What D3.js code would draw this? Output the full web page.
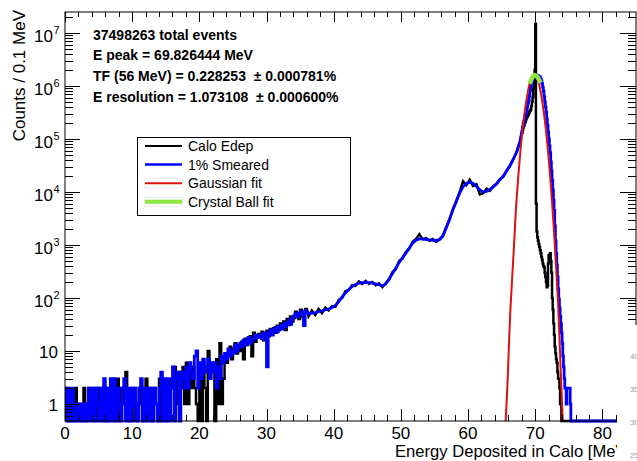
<!DOCTYPE html>
<html><head><meta charset="utf-8">
<script src="https://cdn.jsdelivr.net/npm/d3@7"></script>
<style>body{margin:0;background:#fff}svg{display:block}text{font-family:"Liberation Sans",Arial,Helvetica,sans-serif;white-space:pre}</style>
</head><body><svg id="c" width="637" height="461"></svg>
<script>
// ---------------- data ----------------
const xRange = [0, 85];
const yRange = [0.478, 2.49e7];
const xTickValues = [0, 10, 20, 30, 40, 50, 60, 70, 80];
const xTickLabels = ["0", "10", "20", "30", "40", "50", "60", "70", "80"];
const yTickValues = [1, 10, 1e2, 1e3, 1e4, 1e5, 1e6, 1e7];
const yTickBase = ["1", "10", "10", "10", "10", "10", "10", "10"];
const yTickExp = ["", "", "2", "3", "4", "5", "6", "7"];
const xTitle = "Energy Deposited in Calo [MeV]";
const yTitle = "Counts / 0.1 MeV";
const infoLines = [
  "37498263 total events",
  "E peak = 69.826444 MeV",
  "TF (56 MeV) = 0.228253  \u00b1 0.000781%",
  "E resolution = 1.073108  \u00b1 0.000600%"
];
const legendLabels = ["Calo Edep", "1% Smeared", "Gaussian fit", "Crystal Ball fit"];
const sideLabels = ["40", "35", "30", "25"];

// Segment A: 0-36 MeV, 0.25 MeV bins
const segA = {start: 0, step: 0.25};
const blackA = [
 1,2,0,1, 0,1,2,0, 1,1,0,2, 0,1,2,1, 1,2,0,2, 1,2,1,0, 2,0,1,2, 1,2,0,3, 0,2,1,2, 4,1,0,2,
 1,2,0,1, 2,1,0,2, 3,1,2,0, 1,2,1,0, 3,0,2,1, 0,2,1,3, 2,5,1,3, 4,2,5,1, 6,1,4,2, 5,2,1,0,
 4,0,6,2, 0,10,3,4, 6,0,7,1, 14,1,3,8, 6,9,12,7, 11,14,9,13, 10,15,7,17, 13,16,19,8, 22,15,18,21, 19,23,16,20,
 24,19,26,21, 27,22,30,25, 33,28,36,25, 40,31,45,36, 42,55,48,40, 60,45,55,62
];
const blueA = [
 2,0,2,0, 2,0,1,0, 1,0,1,0, 1,0,2,0, 2,0,2,1, 0,2,0,3, 0,2,0,3, 0,3,0,2, 1,0,2,3, 0,2,0,2,
 0,2,1,0, 2,3,0,2, 0,2,0,2, 0,2,1,0, 2,4,0,3, 0,3,0,2, 5,0,3,4, 0,3,4,2, 5,2,6,4, 3,8,10,2,
 6,3,7,4, 5,7,3,6, 4,6,2,5, 3,8,6,9, 7,11,8,10, 9,13,10,12, 14,12,16,13, 15,18,14,16, 17,20,18,19, 20,17,22,19,
 5,22,25,20, 24,28,23,27, 30,26,33,29, 34,38,32,42, 46,50,44,52, 55,48,30,58
];
// Segment B: 36-68 MeV, 0.5 MeV bins
const segB = {start: 36, step: 0.5};
const blackB = [45,58,48,62,52,66,58,70,68,92,100,135,140,175,170,205,185,210,185,200,175,190,160,190,
 220,310,350,500,560,740,850,1150,1300,1600,1280,1350,1200,1300,1150,1280,1450,2200,3000,4800,6500,10000,16000,13500,
 17000,13000,14000,9000,9500,11500,10500,13000,14000,17500,19500,25500,31000,42000,57000,90000];
const blueB = [50,52,53,55,57,60,62,66,72,85,105,125,145,165,180,190,195,198,195,190,185,178,170,185,
 230,290,370,470,580,700,880,1080,1230,1300,1300,1270,1250,1230,1220,1260,1500,2100,3100,4600,6800,9500,12500,14500,
 15500,14500,12800,11000,10000,10300,11200,12500,14500,17000,20000,25000,32000,42000,58000,92000];
// Segment C: 68-76 MeV, 0.1 MeV bins
const segC = {start: 68, step: 0.1};
const blackC = [
 130000,150000,165000,180000,200000,215000,235000,255000,270000,285000,
 300000,320000,340000,360000,420000,500000,620000,900000,1400000,2000000,
 15000000,6000,1800,1400,1200,1050,920,800,700,600,
 520,450,400,380,300,250,200,160,170,450,
 640,620,700,500,300,100,60,33,20,12,
 9,7,6,4,3,3,2,1,1,0,
 0,0,0,0,0,0,0,0,0,0,
 0,0,0,0,0,0,0,0,0,0
];
const blueC = [
 140000,170000,195000,220000,250000,275000,300000,350000,410000,480000,
 550000,660000,800000,970000,1100000,1250000,1380000,1480000,1550000,1600000,
 1620000,1610000,1600000,1580000,1550000,1520000,1480000,1420000,1350000,1230000,
 1100000,950000,800000,630000,500000,400000,320000,240000,180000,135000,
 100000,74000,55000,37000,25000,16500,11000,7000,4500,2300,
 1200,700,420,250,150,95,65,45,33,22,
 14,8,5,3,2,2,1,2,2,2,
 2,2,1,0,0,0,0,0,0,0
];
// Segment D: empty tail 76-85 MeV
const segD = {start: 76, step: 9};
const blackD = [0];
const blueD = [0];

// Fit curves
const gausE = [65.6,65.9,66.3,66.8,67.2,67.8,68.3,68.8,69.3,69.85,70.4,70.9,71.4,71.9,72.5,72.9,73.4,73.8,74.1];
const gausN = [0.478,3,60,800,6500,60000,240000,650000,1250000,1600000,1260000,660000,240000,60000,6500,1100,80,4,0.478];
const cbE = [69.2,69.5,69.85,70.2,70.5,70.8];
const cbN = [1100000,1400000,1620000,1540000,1360000,1150000];

// ---------------- drawing ----------------
const svg = d3.select("#c");
const F = {l: 65, t: 12, r: 636, b: 421};
const x = d3.scaleLinear().domain(xRange).range([F.l, F.r]);
const y = d3.scaleLog().domain(yRange).range([F.b, F.t]);
const yv = v => y(Math.max(v, yRange[0]));

svg.append("defs").append("clipPath").attr("id", "clip")
  .append("rect").attr("x", F.l).attr("y", F.t).attr("width", F.r - F.l).attr("height", F.b - F.t + 2);

function histPoints(parts) {
  const pts = [[xRange[0], 0]];
  parts.forEach(([seg, vals, mode]) => {
    vals.forEach((v, i) => {
      const e0 = seg.start + i * seg.step;
      if (mode === "step") { pts.push([e0, v]); pts.push([e0 + seg.step, v]); }
      else pts.push([e0 + seg.step / 2, v]);
    });
  });
  return pts;
}
const line = d3.line().x(d => x(d[0])).y(d => yv(d[1]));
const plot = svg.append("g").attr("clip-path", "url(#clip)");

const blackPts = histPoints([[segA, blackA, "step"], [segB, blackB, "smooth"], [segC, blackC, "step"], [segD, blackD, "step"]]);
const bluePts = histPoints([[segA, blueA, "step"], [segB, blueB, "smooth"], [segC, blueC, "step"], [segD, blueD, "step"]]);

plot.append("path").attr("d", line(blackPts)).attr("fill", "none").attr("stroke", "#000").attr("stroke-width", 2.5);
plot.append("path").attr("d", line(bluePts)).attr("fill", "none").attr("stroke", "#0000ff").attr("stroke-width", 2.8);

const curve = d3.line().x(d => x(d[0])).y(d => yv(d[1])).curve(d3.curveCatmullRom);
plot.append("path").attr("d", curve(gausE.map((e, i) => [e, gausN[i]])))
  .attr("fill", "none").attr("stroke", "#dd1010").attr("stroke-width", 2);
plot.append("path").attr("d", curve(cbE.map((e, i) => [e, cbN[i]])))
  .attr("fill", "none").attr("stroke", "#8fe640").attr("stroke-width", 4.5).attr("stroke-linecap", "butt");

// frame
const ax = svg.append("g").attr("stroke", "#000").attr("stroke-width", 1);
ax.append("rect").attr("x", F.l).attr("y", F.t).attr("width", F.r - F.l).attr("height", F.b - F.t).attr("fill", "none");

// x ticks
const xMinor = d3.range(xRange[0], xRange[1] + 0.001, 2);
xMinor.forEach(v => {
  const major = xTickValues.includes(v);
  const px = Math.round(x(v)) + 0.5;
  ax.append("line").attr("x1", px).attr("x2", px).attr("y1", F.b).attr("y2", F.b - (major ? 12 : 6));
  ax.append("line").attr("x1", px).attr("x2", px).attr("y1", F.t).attr("y2", F.t + (major ? 10 : 5));
});
// y ticks
const yMinor = [];
for (let d = -1; d <= 7; d++) for (let k = 2; k <= 9; k++) {
  const v = k * Math.pow(10, d);
  if (v > yRange[0] && v < yRange[1]) yMinor.push(v);
}
yTickValues.forEach(v => {
  const py = Math.round(y(v)) + 0.5;
  ax.append("line").attr("x1", F.l).attr("x2", F.l + 15).attr("y1", py).attr("y2", py);
  ax.append("line").attr("x1", F.r).attr("x2", F.r - 16).attr("y1", py).attr("y2", py);
});
yMinor.forEach(v => {
  const py = Math.round(y(v)) + 0.5;
  ax.append("line").attr("x1", F.l).attr("x2", F.l + 8).attr("y1", py).attr("y2", py);
  ax.append("line").attr("x1", F.r).attr("x2", F.r - 8).attr("y1", py).attr("y2", py);
});

// tick labels
const lab = svg.append("g").attr("fill", "#000");
xTickValues.forEach((v, i) => {
  lab.append("text").attr("x", x(v)).attr("y", 439).attr("text-anchor", "middle")
    .attr("font-size", 17).text(xTickLabels[i]);
});
yTickValues.forEach((v, i) => {
  const py = y(v);
  if (yTickExp[i] === "") {
    lab.append("text").attr("x", 58).attr("y", py + 7).attr("text-anchor", "end")
      .attr("font-size", 17).text(yTickBase[i]);
  } else {
    lab.append("text").attr("x", 53).attr("y", py + 9).attr("text-anchor", "end")
      .attr("font-size", 17).text(yTickBase[i]);
    lab.append("text").attr("x", 53.5).attr("y", py + 1).attr("text-anchor", "start")
      .attr("font-size", 11).text(yTickExp[i]);
  }
});
// axis titles
lab.append("text").attr("x", 395).attr("y", 457).attr("text-anchor", "start")
  .attr("font-size", 16.6).text(xTitle);
lab.append("text").attr("transform", "translate(25,10) rotate(-90)").attr("text-anchor", "end")
  .attr("font-size", 17).text(yTitle);

// info text
infoLines.forEach((t, i) => {
  lab.append("text").attr("x", 93).attr("y", 39.5 + i * 20.7).attr("font-size", 14)
    .attr("font-weight", "bold").text(t);
});

// legend
const lg = svg.append("g");
lg.append("rect").attr("x", 137.5).attr("y", 137.5).attr("width", 213).attr("height", 78)
  .attr("fill", "#fff").attr("stroke", "#000").attr("stroke-width", 1);
const legColors = ["#000", "#0000ff", "#dd1010", "#8fe640"];
const legWidths = [2, 2.5, 2, 4];
legendLabels.forEach((t, i) => {
  const cy = 146 + i * 18.6;
  if (i >= 2) lg.append("rect").attr("x", 144.5).attr("y", cy - 4.5).attr("width", 38).attr("height", 9)
    .attr("fill", "none").attr("stroke", "#ececec").attr("stroke-width", 1);
  lg.append("line").attr("x1", 145).attr("x2", 182).attr("y1", cy).attr("y2", cy)
    .attr("stroke", legColors[i]).attr("stroke-width", legWidths[i]);
  lg.append("text").attr("x", 188).attr("y", cy + 5).attr("font-size", 14).text(t);
});

// overlapping neighbour image at lower right (its labels are cut by the window edge, as in the reference)
svg.append("rect").attr("x", 617).attr("y", 325).attr("width", 20).attr("height", 136).attr("fill", "#fff");
sideLabels.forEach((t, i) => {
  svg.append("text").attr("x", 630).attr("y", 359 + i * 33).attr("font-size", 8).attr("fill", "#999").text(t);
});
</script></body></html>
